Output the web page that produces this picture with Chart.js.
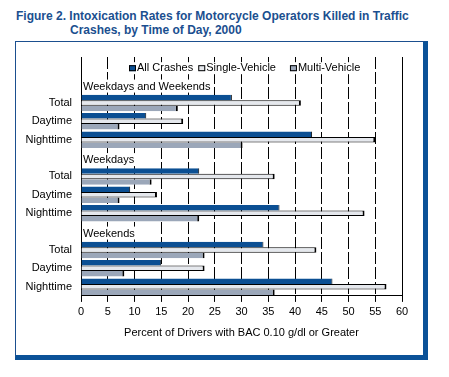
<!DOCTYPE html>
<html>
<head>
<meta charset="utf-8">
<script src="https://cdn.jsdelivr.net/npm/chart.js@4"></script>
<style>
  html, body { margin: 0; padding: 0; background: #fff; }
  body { width: 449px; height: 377px; position: relative; overflow: hidden; font-family: "Liberation Sans", Arial, sans-serif; }
  .title { position: absolute; font-weight: bold; font-size: 12px; line-height: 14px; color: #1b4f8f; white-space: nowrap; }
  #frame { position: absolute; left: 15px; top: 41px; width: 407px; height: 313px;
           border-left: 1px solid #1b4f8f; border-top: 1px solid #1b4f8f;
           border-right: 5px solid #0b5298; border-bottom: 5px solid #0b5298; }
  #wrap { position: absolute; left: 0; top: 0; width: 449px; height: 377px; }
</style>
</head>
<body>
<div class="title" style="left:16px; top:9px;">Figure 2. Intoxication Rates for Motorcycle Operators Killed in Traffic</div>
<div class="title" style="left:70px; top:23px;">Crashes, by Time of Day, 2000</div>
<div id="frame"></div>
<div id="wrap"><canvas id="chart" width="449" height="377"></canvas></div>
<script>
  // ---------- Data ----------
  const groups = ['Weekdays and Weekends', 'Weekdays', 'Weekends'];
  const timeLabels = ['Total', 'Daytime', 'Nighttime'];
  const seriesNames = ['All Crashes', 'Single-Vehicle', 'Multi-Vehicle'];
  // values per group in order Total, Daytime, Nighttime
  const allCrashes    = [28.2, 12.2, 43.2,  22.1,  9.2, 37.1,  34.1, 15.0, 47.0];
  const singleVehicle = [41.1, 19.1, 55.0,  36.2, 14.2, 53.0,  44.0, 23.1, 57.1];
  const multiVehicle  = [18.1,  7.2, 30.2,  13.2,  7.2, 22.1,  23.1,  8.1, 36.2];
  const xTicks = [0, 5, 10, 15, 20, 25, 30, 35, 40, 45, 50, 55, 60];
  const xTitle = 'Percent of Drivers with BAC 0.10 g/dl or Greater';

  const COLORS = { all: '#0b4f93', single: '#e5e8ed', multi: '#9ba7b9' };

  // rows: blank (legend) row, then a header row + 3 time rows per group
  const rowLabels = [''];
  const headerRows = [];
  groups.forEach(g => {
    headerRows.push(rowLabels.length);
    rowLabels.push('');
    timeLabels.forEach(t => rowLabels.push(t));
  });
  function toRows(vals){
    const out = rowLabels.map(() => null);
    let k = 0;
    rowLabels.forEach((l, i) => { if (l !== '') out[i] = vals[k++]; });
    return out;
  }

  Chart.defaults.font.family = '"Liberation Sans", Arial, sans-serif';
  Chart.defaults.font.size = 11;
  Chart.defaults.color = '#000';

  // headers + legend drawn inside the plot on a white patch
  const overlay = {
    id: 'overlay',
    afterDatasetsDraw(chart){
      const { ctx, chartArea: a, scales } = chart;
      ctx.save();
      // solid right border at max
      const xr = scales.x.getPixelForValue(60);
      ctx.strokeStyle = '#000'; ctx.lineWidth = 1;
      ctx.beginPath(); ctx.moveTo(Math.round(xr) + 0.5, a.top); ctx.lineTo(Math.round(xr) + 0.5, a.bottom); ctx.stroke();

      ctx.font = '11px "Liberation Sans", Arial, sans-serif';
      ctx.textBaseline = 'middle';
      // group headers
      headerRows.forEach((r, i) => {
        const y = scales.y.getPixelForValue(r) + 2;
        const w = ctx.measureText(groups[i]).width;
        ctx.fillStyle = '#fff';
        ctx.fillRect(a.left + 1, y - 7, w + 3, 13);
        ctx.fillStyle = '#000';
        ctx.fillText(groups[i], a.left + 2, y);
      });
      // legend
      const ly = scales.y.getPixelForValue(0) + 2;
      const gaps = [5, 14, 0];
      let x = a.left + 48;
      chart.data.datasets.forEach((ds, i) => {
        const tw = ctx.measureText(ds.label).width;
        ctx.fillStyle = '#fff';
        ctx.fillRect(x - 1, ly - 6, 8 + tw + gaps[i] + 1, 12);
        ctx.fillStyle = ds.backgroundColor;
        ctx.fillRect(x, ly - 3, 7, 6);
        ctx.strokeStyle = '#000';
        ctx.strokeRect(x + 0.5, ly - 2.5, 6, 5);
        ctx.fillStyle = '#000';
        ctx.fillText(ds.label, x + 8, ly);
        x += 8 + tw + gaps[i];
      });
      ctx.restore();
    }
  };

  new Chart(document.getElementById('chart'), {
    type: 'bar',
    data: {
      labels: rowLabels,
      datasets: [
        { label: seriesNames[0], data: toRows(allCrashes), backgroundColor: COLORS.all,
          borderColor: '#000', borderWidth: { top: 0, right: 1, bottom: 0, left: 0 }, borderSkipped: false },
        { label: seriesNames[1], data: toRows(singleVehicle), backgroundColor: COLORS.single,
          borderColor: '#000', borderWidth: { top: 1, right: 2, bottom: 1, left: 0 }, borderSkipped: false },
        { label: seriesNames[2], data: toRows(multiVehicle), backgroundColor: COLORS.multi,
          borderColor: '#000', borderWidth: { top: 0, right: 2, bottom: 0, left: 0 }, borderSkipped: false }
      ]
    },
    options: {
      indexAxis: 'y',
      responsive: false,
      animation: false,
      layout: { padding: { top: 57, right: 47, bottom: 37.7, left: 0 } },
      plugins: { legend: { display: false }, tooltip: { enabled: false } },
      datasets: { bar: { categoryPercentage: 0.9, barPercentage: 1.0 } },
      scales: {
        x: {
          type: 'linear', min: 0, max: 60,
          afterBuildTicks: (s) => { s.ticks = xTicks.map(v => ({ value: v })); },
          grid: { color: '#000', lineWidth: 1, tickLength: 6, tickColor: '#000', tickBorderDash: [] },
          border: { display: true, color: '#000', width: 1, dash: [12, 3] },
          ticks: { padding: 3, color: '#000', font: { size: 11 }, maxRotation: 0 },
          title: { display: true, text: xTitle, color: '#000', font: { size: 11 }, padding: { top: 5, bottom: 0 } }
        },
        y: {
          type: 'category',
          afterFit: (s) => { s.width = 81; },
          grid: { display: false, drawTicks: false },
          border: { display: true, color: '#000', width: 1 },
          ticks: { padding: 9, color: '#000', font: { size: 11 }, autoSkip: false }
        }
      }
    },
    plugins: [overlay]
  });
</script>
</body>
</html>
